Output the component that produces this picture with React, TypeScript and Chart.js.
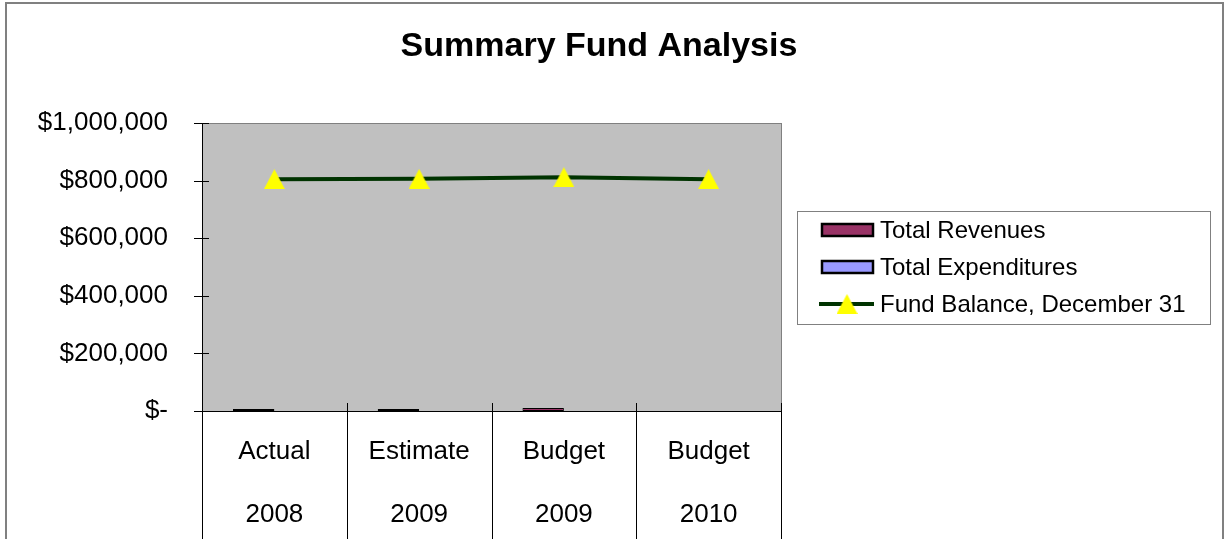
import React, { useEffect, useRef } from 'react';
import { Chart, registerables } from 'chart.js';

Chart.register(...registerables);

const categories: string[][] = [
  ['Actual', '2008'],
  ['Estimate', '2009'],
  ['Budget', '2009'],
  ['Budget', '2010'],
];
const totalRevenues = [7000, 7000, 10000, 0];
const totalExpenditures = [0, 0, 0, 0];
const fundBalance = [805000, 806000, 812000, 805000];
const yTicks = [0, 200000, 400000, 600000, 800000, 1000000];
const seriesNames = ['Total Revenues', 'Total Expenditures', 'Fund Balance, December 31'];
const titleText = 'Summary Fund Analysis';

const FONT = "'Liberation Sans', Arial, sans-serif";
const revColor = '#993366';
const expColor = '#9999FF';
const lineColor = '#003300';
const markerColor = '#FFFF00';

function makeTriangle(): HTMLCanvasElement {
  const c = document.createElement('canvas');
  c.width = 21;
  c.height = 20;
  const g = c.getContext('2d')!;
  g.fillStyle = markerColor;
  g.beginPath();
  g.moveTo(10.5, 0);
  g.lineTo(21, 20);
  g.lineTo(0, 20);
  g.closePath();
  g.fill();
  return c;
}

function fmtMoney(v: number): string {
  if (v === 0) return '$-';
  return '$' + Number(v).toLocaleString('en-US');
}

export default function App() {
  const ref = useRef<HTMLCanvasElement>(null);

  useEffect(() => {
    document.body.style.margin = '0';
    const tri = makeTriangle();

    const decor = {
      id: 'decor',
      beforeDraw(chart: any) {
        const { ctx, chartArea: a } = chart;
        ctx.save();
        ctx.fillStyle = '#FFFFFF';
        ctx.fillRect(0, 0, chart.width, chart.height);
        ctx.strokeStyle = '#808080';
        ctx.lineWidth = 2;
        ctx.strokeRect(6, 3, 1217, 600);
        ctx.fillStyle = '#C0C0C0';
        ctx.fillRect(a.left, a.top, a.right - a.left, a.bottom - a.top);
        ctx.strokeStyle = '#808080';
        ctx.lineWidth = 1;
        ctx.strokeRect(a.left + 0.5, a.top + 0.5, a.right - a.left, a.bottom - a.top);
        ctx.restore();
      },
      afterDatasetsDraw(chart: any) {
        const { ctx, chartArea: a } = chart;
        const ys = chart.scales.y;
        ctx.save();
        ctx.strokeStyle = '#000000';
        ctx.lineWidth = 1;
        ctx.beginPath();
        ctx.moveTo(a.left + 0.5, a.top);
        ctx.lineTo(a.left + 0.5, a.bottom + 1);
        ctx.moveTo(a.left - 8, a.bottom + 0.5);
        ctx.lineTo(a.right + 1, a.bottom + 0.5);
        for (const v of yTicks) {
          const y = Math.round(ys.getPixelForValue(v)) + 0.5;
          ctx.moveTo(a.left - 8, y);
          ctx.lineTo(a.left + 7, y);
        }
        const n = categories.length;
        const w = (a.right - a.left) / n;
        for (let i = 0; i <= n; i++) {
          const x = Math.round(a.left + i * w) + 0.5;
          ctx.moveTo(x, a.bottom - 8);
          ctx.lineTo(x, chart.height);
        }
        ctx.stroke();
        ctx.restore();
      },
      afterDraw(chart: any) {
        const { ctx } = chart;
        ctx.save();
        // title
        ctx.fillStyle = '#000000';
        ctx.font = `bold 34px ${FONT}`;
        ctx.textAlign = 'center';
        ctx.textBaseline = 'middle';
        ctx.fillText(titleText, 599, 47);
        // legend box
        ctx.fillStyle = '#FFFFFF';
        ctx.fillRect(797, 211, 413, 113);
        ctx.strokeStyle = '#808080';
        ctx.lineWidth = 1;
        ctx.strokeRect(797.5, 211.5, 413, 113);
        const rows = [230, 267, 304];
        const fills = [revColor, expColor];
        for (let i = 0; i < 2; i++) {
          ctx.fillStyle = fills[i];
          ctx.fillRect(822, rows[i] - 6, 51, 12);
          ctx.strokeStyle = '#000000';
          ctx.lineWidth = 2.5;
          ctx.strokeRect(822, rows[i] - 6, 51, 12);
        }
        ctx.strokeStyle = lineColor;
        ctx.lineWidth = 4;
        ctx.beginPath();
        ctx.moveTo(819, rows[2]);
        ctx.lineTo(874, rows[2]);
        ctx.stroke();
        ctx.drawImage(tri, 847 - 10.5, rows[2] - 10);
        ctx.fillStyle = '#000000';
        ctx.font = `24px ${FONT}`;
        ctx.textAlign = 'left';
        ctx.textBaseline = 'middle';
        for (let i = 0; i < 3; i++) {
          ctx.fillText(seriesNames[i], 880, rows[i] + 1);
        }
        ctx.restore();
      },
    };

    const chart = new Chart(ref.current!, {
      type: 'bar',
      data: {
        labels: categories,
        datasets: [
          {
            type: 'line',
            label: seriesNames[2],
            data: fundBalance,
            borderColor: lineColor,
            borderWidth: 4,
            pointStyle: tri as any,
            pointRadius: 10,
            pointBackgroundColor: markerColor,
            tension: 0,
            order: 0,
          } as any,
          {
            label: seriesNames[0],
            data: totalRevenues,
            backgroundColor: revColor,
            borderColor: '#000000',
            borderWidth: 1,
            borderSkipped: false,
            categoryPercentage: 0.572,
            barPercentage: 1.0,
            order: 1,
          },
          {
            label: seriesNames[1],
            data: totalExpenditures,
            backgroundColor: expColor,
            borderColor: '#000000',
            borderWidth: 1,
            borderSkipped: false,
            categoryPercentage: 0.572,
            barPercentage: 1.0,
            order: 1,
          },
        ],
      },
      options: {
        responsive: false,
        devicePixelRatio: 1,
        animation: false,
        layout: { padding: { left: 0, right: 443, top: 123, bottom: 0 } },
        plugins: {
          legend: { display: false },
          title: { display: false },
          tooltip: { enabled: false },
        },
        scales: {
          x: {
            offset: true,
            grid: { display: false, drawTicks: false },
            border: { display: false },
            ticks: {
              color: '#000000',
              font: { family: FONT, size: 26, lineHeight: 63 / 26 },
              padding: 9.5,
              maxRotation: 0,
              autoSkip: false,
            },
            afterFit(scale: any) {
              scale.height = 128;
            },
          },
          y: {
            min: 0,
            max: 1000000,
            grid: { display: false, drawTicks: false },
            border: { display: false },
            ticks: {
              color: '#000000',
              font: { family: FONT, size: 26 },
              padding: 34,
              stepSize: 200000,
              callback: (v: any) => fmtMoney(Number(v)),
            },
            afterBuildTicks(scale: any) {
              scale.ticks = yTicks.map((v) => ({ value: v }));
            },
            afterFit(scale: any) {
              scale.width = 202;
            },
          },
        },
      },
      plugins: [decor],
    } as any);

    return () => chart.destroy();
  }, []);

  return (
    <div style={{ position: 'absolute', left: 0, top: 0, width: 1224, height: 539 }}>
      <canvas ref={ref} width={1224} height={539} style={{ display: 'block' }} />
    </div>
  );
}
